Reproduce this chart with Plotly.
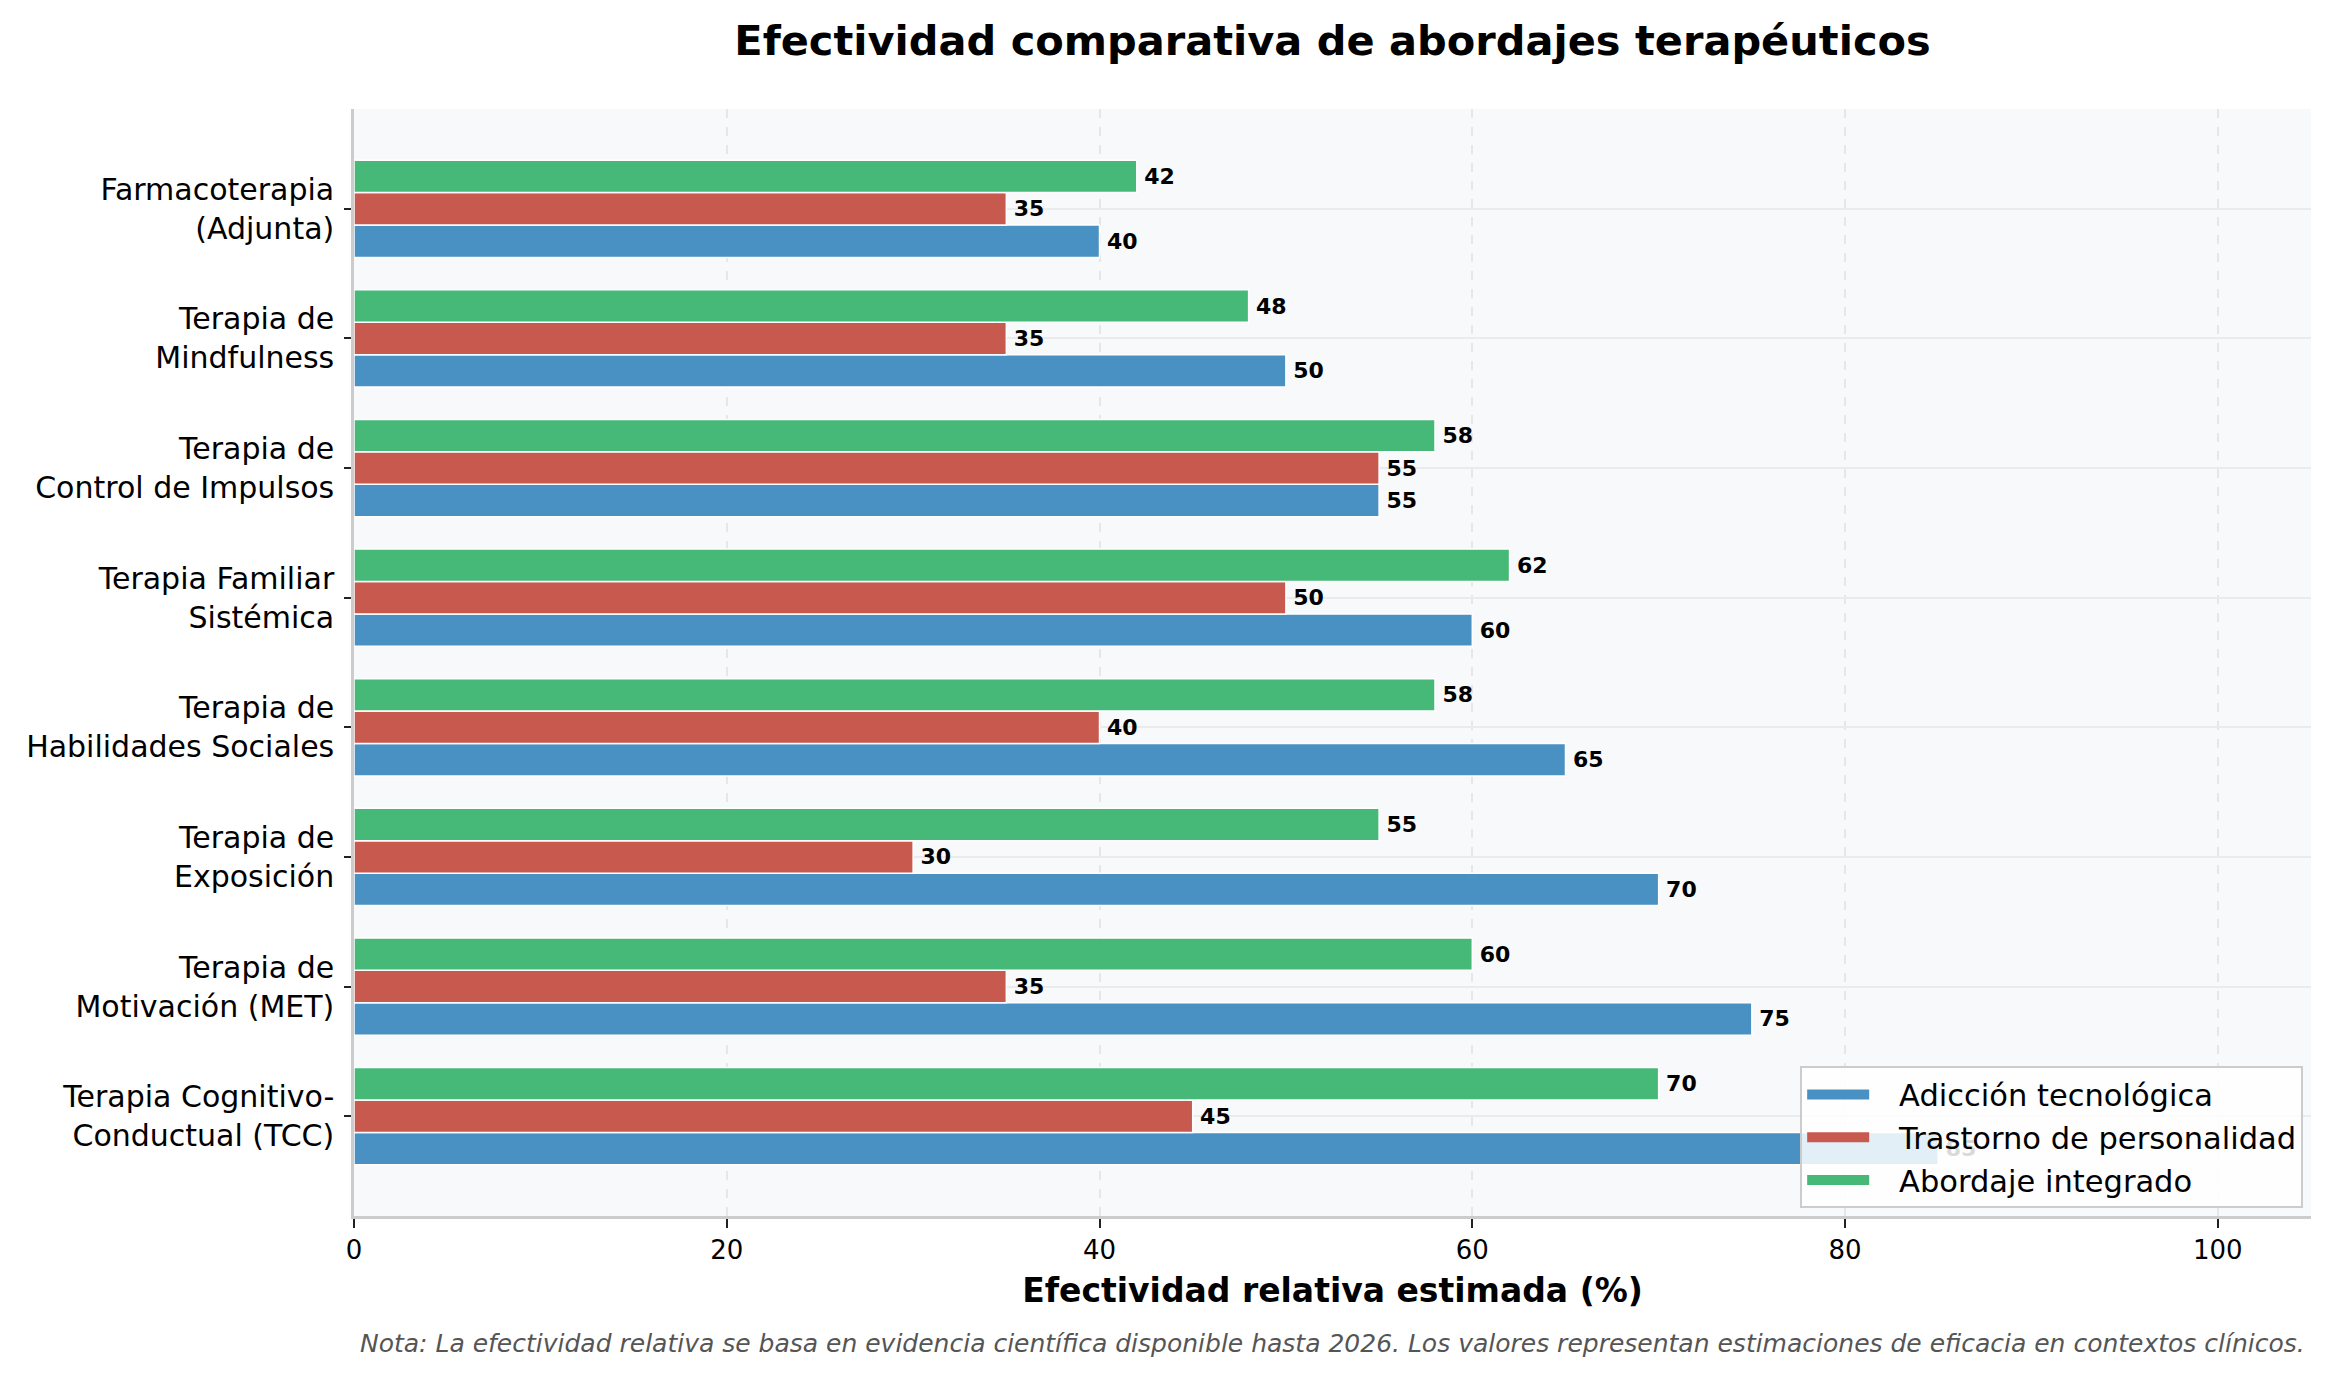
import plotly.graph_objects as go

# datos (de abajo hacia arriba, como en el eje)
terapias = [
    "Terapia Cognitivo-<br>Conductual (TCC)",
    "Terapia de<br>Motivación (MET)",
    "Terapia de<br>Exposición",
    "Terapia de<br>Habilidades Sociales",
    "Terapia Familiar<br>Sistémica",
    "Terapia de<br>Control de Impulsos",
    "Terapia de<br>Mindfulness",
    "Farmacoterapia<br>(Adjunta)",
]
adiccion = [85, 75, 70, 65, 60, 55, 50, 40]
personalidad = [45, 35, 30, 40, 50, 55, 35, 35]
integrado = [70, 60, 55, 58, 62, 58, 48, 42]

series = [
    ("Adicción tecnológica", adiccion, "#4891c2"),
    ("Trastorno de personalidad", personalidad, "#c8594e"),
    ("Abordaje integrado", integrado, "#46b978"),
]

fig = go.Figure()
for nombre, vals, color in series:
    fig.add_trace(go.Bar(
        y=terapias, x=vals, name=nombre, orientation="h", showlegend=False,
        marker=dict(color=color, line=dict(color="white", width=1.5)),
        text=vals, texttemplate="\u2009%{x}", textposition="outside",
        textfont=dict(size=22, color="black", family="DejaVu Sans", weight="bold"),
        constraintext="none", cliponaxis=False,
    ))

# entradas de leyenda con muestra rectangular ancha
for i, (nombre, vals, color) in enumerate(series):
    fig.add_trace(go.Scatter(
        x=[None], y=[None], mode="lines", name="\u2002\u00a0" + nombre,
        legendgroup=f"g{i}", line=dict(color=color, width=14), hoverinfo="skip",
    ))

# la página tiene 8px de margen en body: se compensa aquí
fig.update_layout(
    width=2313, height=1360,
    margin=dict(l=346, r=10, t=101, b=152),
    paper_bgcolor="white", plot_bgcolor="#f8f9fa",
    font=dict(family="DejaVu Sans", color="black"),
    barmode="group", bargap=0.25, bargroupgap=0,
    title=dict(text="<b>Efectividad comparativa de abordajes terapéuticos</b>",
               x=0.5, xref="paper", xanchor="center",
               y=1 - 32 / 1360, yref="container", yanchor="middle",
               font=dict(size=41.5, color="black")),
    legend=dict(x=0.996, y=0.007, xanchor="right", yanchor="bottom",
                traceorder="normal", bgcolor="rgba(255,255,255,0.85)",
                bordercolor="#cccccc", borderwidth=2, itemwidth=62,
                tracegroupgap=3,
                font=dict(size=30.5, color="black")),
    showlegend=True,
)

fig.update_xaxes(
    range=[0, 105], tickvals=[0, 20, 40, 60, 80, 100],
    showgrid=True, gridcolor="rgba(205,205,205,0.4)", gridwidth=1.5, griddash="dash",
    zeroline=False, showline=True, linecolor="#cccccc", linewidth=2.5,
    ticks="outside", ticklen=9, tickwidth=2, tickcolor="#222",
    tickfont=dict(size=26, color="black"),
    title=dict(text="<b>Efectividad relativa estimada (%)</b>", standoff=15,
               font=dict(size=33, color="black")),
)
fig.update_yaxes(
    range=[-0.77, 7.77],
    showgrid=True, gridcolor="#ebebeb", gridwidth=1.5,
    showline=True, linecolor="#cccccc", linewidth=2.5,
    ticks="outside", ticklen=7, tickwidth=2, tickcolor="#222",
    ticklabelstandoff=4,
    tickfont=dict(size=30, color="black"),
)

fig.add_annotation(
    text="<i>Nota: La efectividad relativa se basa en evidencia científica disponible hasta 2026. "
         "Los valores representan estimaciones de eficacia en contextos clínicos.</i>",
    xref="paper", yref="paper", x=0.5, y=(1208 - 1335) / 1107,
    xanchor="center", yanchor="middle", showarrow=False,
    font=dict(size=25, color="#555555"),
)

fig.write_html("out.html")
